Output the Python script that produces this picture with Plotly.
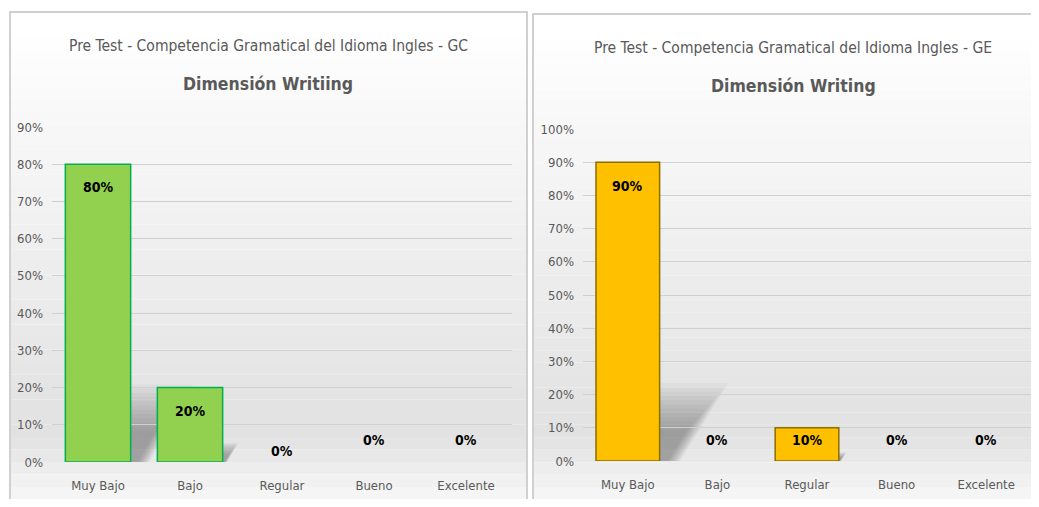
import plotly.graph_objects as go

categories = ["Muy Bajo", "Bajo", "Regular", "Bueno", "Excelente"]
gc_values = [0.80, 0.20, 0.00, 0.00, 0.00]
ge_values = [0.90, 0.00, 0.10, 0.00, 0.00]
gc_title = "Pre Test - Competencia Gramatical del Idioma Ingles - GC"
gc_subtitle = "Dimensión Writiing"
ge_title = "Pre Test - Competencia Gramatical del Idioma Ingles - GE"
ge_subtitle = "Dimensión Writing"

# page body has an 8px margin; figure fills the rest of the window
OFF = 8
FW, FH = 1039 - 2 * OFF, 507 - 2 * OFF


def px(X):
    return (X - OFF) / FW


def py(Y):
    return 1 - (Y - OFF) / FH


FONT = "DejaVu Sans Condensed, Roboto Condensed, Liberation Sans Narrow, Roboto, sans-serif"
GRAY = "#595959"
BARGAP = 0.29

fig = go.Figure()


def panel_bg(x0, x1, y0, y1):
    shapes = []
    n = 40
    for i in range(n):
        t = i / (n - 1)
        if t < 0.85:
            g = 255 - int(30 * (t / 0.85))
        else:
            g = 225 + int(25 * ((t - 0.85) / 0.15))
        col = f"rgb({g},{g},{g})"
        ya = y0 + (y1 - y0) * i / n
        yb = y0 + (y1 - y0) * (i + 1) / n
        shapes.append(dict(type="rect", xref="paper", yref="paper",
                           x0=px(x0), x1=px(x1), y0=py(yb), y1=py(ya),
                           fillcolor=col, line=dict(width=0), layer="below"))
    shapes.append(dict(type="rect", xref="paper", yref="paper",
                       x0=px(x0), x1=px(x1), y0=py(y1), y1=py(y0),
                       fillcolor="rgba(0,0,0,0)", line=dict(color="#d0d0d0", width=2),
                       layer="below"))
    return shapes


def bar_shadows(values, xref, yref):
    # soft perspective shadow to the right of each bar, derived from its value
    shapes = []
    half = (1 - BARGAP) / 2
    n = 12
    for i, v in enumerate(values):
        if v <= 0:
            continue
        r = i + half
        for k in range(n):
            s = 1.0 - 0.6 * k / (n - 1)
            h = 0.26 * v * s
            dx = 0.85 * v * s
            path = f"M {r},0 L {r},{h} L {r + dx},{h} L {r + dx * 0.3},0 Z"
            shapes.append(dict(type="path", path=path, xref=xref, yref=yref,
                               fillcolor="rgba(80,80,80,0.045)", line=dict(width=0),
                               layer="below"))
    return shapes


shapes = panel_bg(10, 527, 12, 512) + panel_bg(533, 1045, 14, 512)
shapes += bar_shadows(gc_values, "x", "y") + bar_shadows(ge_values, "x2", "y2")

fig.add_trace(go.Bar(x=categories, y=gc_values, xaxis="x", yaxis="y",
                     marker=dict(color="#92D050",
                                 line=dict(color="#00B050", width=[1.5 if v > 0 else 0 for v in gc_values])),
                     showlegend=False, hoverinfo="skip"))
fig.add_trace(go.Bar(x=categories, y=ge_values, xaxis="x2", yaxis="y2",
                     marker=dict(color="#FFC000",
                                 line=dict(color="#8C6D00", width=[1.5 if v > 0 else 0 for v in ge_values])),
                     showlegend=False, hoverinfo="skip"))

LBL = dict(family=FONT, size=14, color="#000")
annotations = []
gc_zero_shift = [0, 0, 11, 22, 22]
for i, (c, v) in enumerate(zip(categories, gc_values)):
    if v > 0:
        annotations.append(dict(x=c, y=v, xref="x", yref="y", text=f"<b>{round(v*100)}%</b>",
                                showarrow=False, yshift=-23, font=LBL))
    else:
        annotations.append(dict(x=c, y=v, xref="x", yref="y", text=f"<b>{round(v*100)}%</b>",
                                showarrow=False, yshift=gc_zero_shift[i], font=LBL))
for i, (c, v) in enumerate(zip(categories, ge_values)):
    if v > 0.5:
        annotations.append(dict(x=c, y=v, xref="x2", yref="y2", text=f"<b>{round(v*100)}%</b>",
                                showarrow=False, yshift=-24, font=LBL))
    else:
        annotations.append(dict(x=c, y=0, xref="x2", yref="y2", text=f"<b>{round(v*100)}%</b>",
                                showarrow=False, yshift=21, font=LBL))

annotations += [
    dict(x=px(268), y=py(46), xref="paper", yref="paper", text=gc_title, showarrow=False,
         xanchor="center", yanchor="middle", font=dict(family=FONT, size=15.5, color=GRAY)),
    dict(x=px(268), y=py(84), xref="paper", yref="paper", text=f"<b>{gc_subtitle}</b>", showarrow=False,
         xanchor="center", yanchor="middle", font=dict(family=FONT, size=17.5, color=GRAY)),
    dict(x=px(793), y=py(48), xref="paper", yref="paper", text=ge_title, showarrow=False,
         xanchor="center", yanchor="middle", font=dict(family=FONT, size=15.5, color=GRAY)),
    dict(x=px(793), y=py(86), xref="paper", yref="paper", text=f"<b>{ge_subtitle}</b>", showarrow=False,
         xanchor="center", yanchor="middle", font=dict(family=FONT, size=17.5, color=GRAY)),
]

axis_common = dict(tickfont=dict(family=FONT, size=13, color=GRAY), showline=False,
                   zeroline=False, automargin=False, ticks="")

fig.update_layout(
    width=FW, height=FH, margin=dict(l=0, r=0, t=0, b=0, autoexpand=False),
    paper_bgcolor="white", plot_bgcolor="rgba(0,0,0,0)",
    bargap=BARGAP, shapes=shapes, annotations=annotations,
    xaxis=dict(domain=[px(52), px(512)], anchor="y", showgrid=False, **axis_common),
    yaxis=dict(domain=[py(462), py(127)], anchor="x", range=[0, 0.9], dtick=0.1,
               tickformat=".0%", gridcolor="#d0d0d0", gridwidth=1, **axis_common),
    xaxis2=dict(domain=[px(583), min(px(1035), 1)], anchor="y2", showgrid=False, **axis_common),
    yaxis2=dict(domain=[py(461), py(129)], anchor="x2", range=[0, 1.0], dtick=0.1,
                tickformat=".0%", gridcolor="#d0d0d0", gridwidth=1, **axis_common),
)
fig.update_yaxes(ticklabelstandoff=8)
fig.update_xaxes(ticklabelstandoff=14)

fig.write_html("out.html")
